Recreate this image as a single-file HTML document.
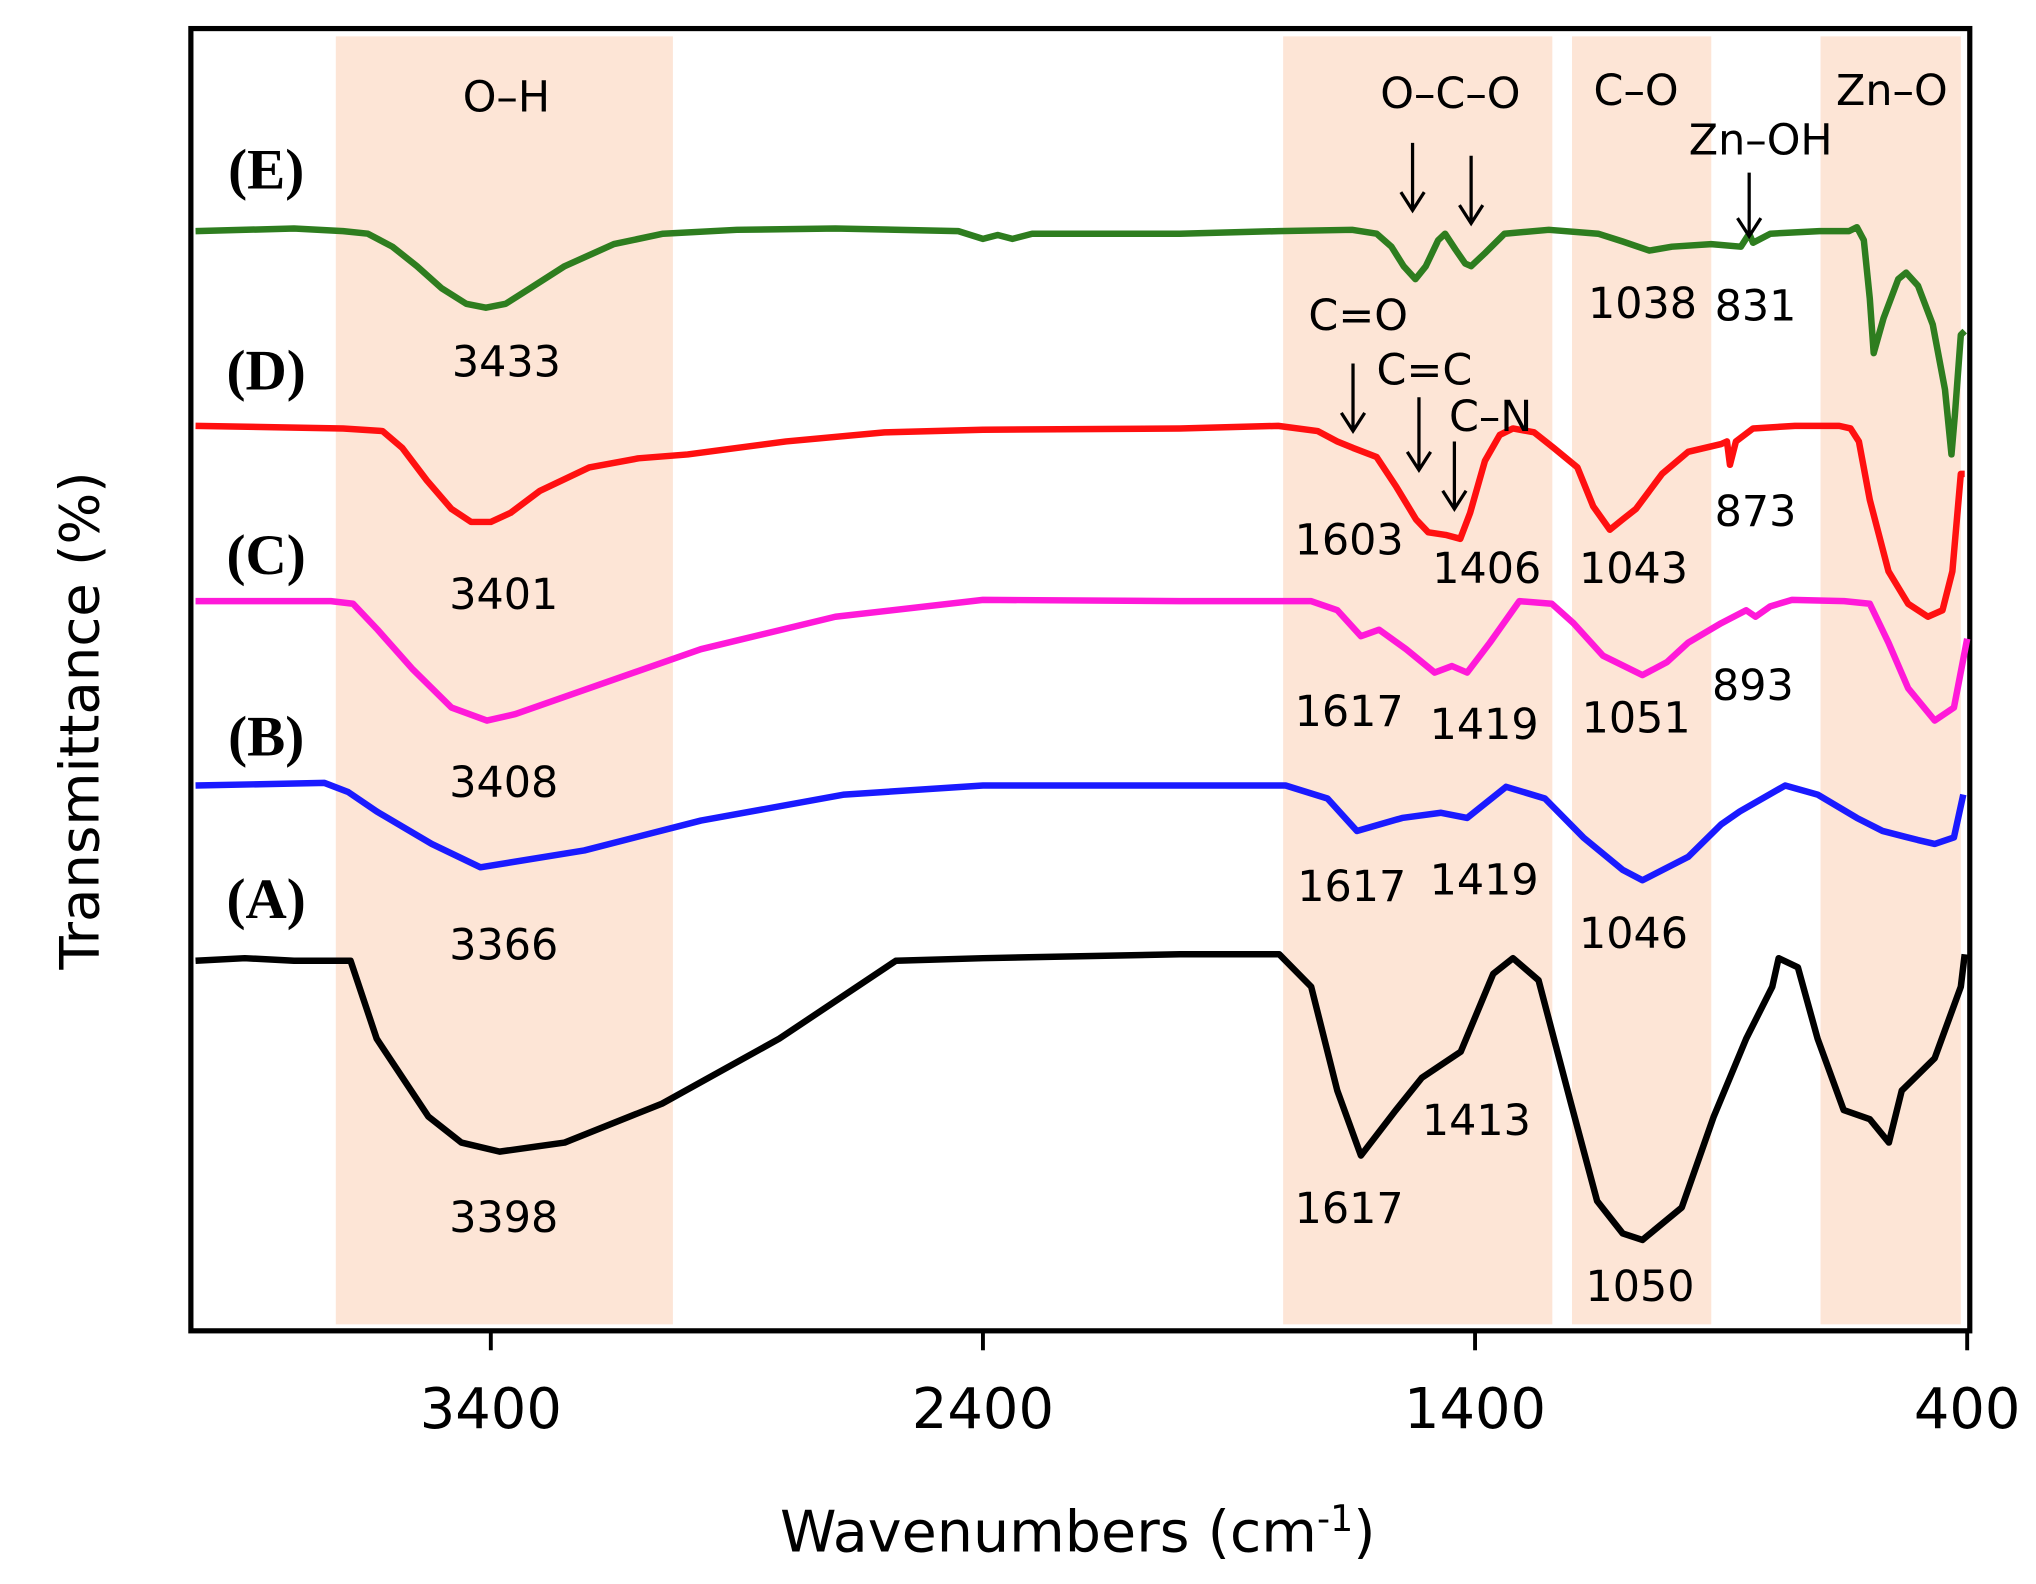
<!DOCTYPE html>
<html><head><meta charset="utf-8"><style>
html,body{margin:0;padding:0;background:#fff;}
svg{display:block;}
text{font-family:"DejaVu Sans","Liberation Sans",sans-serif;fill:#000;}
.pk{font-size:33px;}
.bd{font-size:33px;}
.cl{font-family:"Liberation Serif",serif;font-weight:bold;font-size:44px;}
.tk{font-size:43px;}
</style></head><body>
<svg id="chart" width="2036" height="1584" viewBox="0 0 1568 1220" preserveAspectRatio="none" xmlns="http://www.w3.org/2000/svg">
<g id="bands"></g>
<rect x="147" y="22" width="1370" height="1003" fill="none" stroke="#000" stroke-width="4"/>
<g id="ticks"></g>
<g id="curves"></g>
<text x="830" y="1195" font-size="44" text-anchor="middle">Wavenumbers (cm<tspan font-size="28" dy="-16">-1</tspan><tspan dy="16">)</tspan></text>
<text transform="translate(76,555) rotate(-90)" font-size="42" text-anchor="middle">Transmittance (%)</text>
<text class="cl" x="205" y="145" text-anchor="middle">(E)</text>
<text class="cl" x="205" y="300" text-anchor="middle">(D)</text>
<text class="cl" x="205" y="442" text-anchor="middle">(C)</text>
<text class="cl" x="205" y="582" text-anchor="middle">(B)</text>
<text class="cl" x="205" y="707" text-anchor="middle">(A)</text>
<g>
<text class="bd" x="390" y="86" text-anchor="middle">O–H</text>
<text class="bd" x="1117" y="83" text-anchor="middle">O–C–O</text>
<text class="bd" x="1260" y="81" text-anchor="middle">C–O</text>
<text class="bd" x="1457" y="81" text-anchor="middle">Zn–O</text>
<text class="bd" x="1356" y="119" text-anchor="middle">Zn–OH</text>
<text class="bd" x="1046" y="254" text-anchor="middle">C=O</text>
<text class="bd" x="1097" y="296" text-anchor="middle">C=C</text>
<text class="bd" x="1148" y="332" text-anchor="middle">C–N</text>
</g>
<g>
<text class="pk" x="390" y="290" text-anchor="middle">3433</text>
<text class="pk" x="1265" y="245" text-anchor="middle">1038</text>
<text class="pk" x="1352" y="247" text-anchor="middle">831</text>
<text class="pk" x="388" y="469" text-anchor="middle">3401</text>
<text class="pk" x="1039" y="427" text-anchor="middle">1603</text>
<text class="pk" x="1145" y="449" text-anchor="middle">1406</text>
<text class="pk" x="1258" y="449" text-anchor="middle">1043</text>
<text class="pk" x="1352" y="405" text-anchor="middle">873</text>
<text class="pk" x="388" y="614" text-anchor="middle">3408</text>
<text class="pk" x="1039" y="559" text-anchor="middle">1617</text>
<text class="pk" x="1143" y="569" text-anchor="middle">1419</text>
<text class="pk" x="1260" y="564" text-anchor="middle">1051</text>
<text class="pk" x="1350" y="539" text-anchor="middle">893</text>
<text class="pk" x="388" y="739" text-anchor="middle">3366</text>
<text class="pk" x="1041" y="694" text-anchor="middle">1617</text>
<text class="pk" x="1143" y="689" text-anchor="middle">1419</text>
<text class="pk" x="1258" y="730" text-anchor="middle">1046</text>
<text class="pk" x="388" y="949" text-anchor="middle">3398</text>
<text class="pk" x="1039" y="942" text-anchor="middle">1617</text>
<text class="pk" x="1137" y="874" text-anchor="middle">1413</text>
<text class="pk" x="1263" y="1002" text-anchor="middle">1050</text>
</g>
<g id="arrows"></g>
</svg>
<script>
var NS="http://www.w3.org/2000/svg";
var tickValues=[3400,2400,1400,400];
var bandRanges=[[3715,3030],[1790,1243],[1203,920],[698,413]];
var arrowAt=[[1527,110,162],[1408,120,172],[843,133,182],[1648,280,332],[1514,306,362],[1442,340,392]];
var wE=[4000,3800,3700,3650,3600,3550,3500,3450,3410,3370,3320,3250,3150,3050,2900,2700,2450,2400,2370,2340,2300,2000,1800,1650,1600,1570,1545,1521,1500,1475,1461,1440,1420,1408,1380,1340,1250,1150,1100,1046,1000,920,860,843,835,800,700,640,624,610,598,590,570,540,524,500,470,445,432,425,413,405];
var tE=[847,849,847,845,835,820,803,791,788,791,803,820,837,845,848,849,847,841,844,841,845,845,847,848,845,835,820,810,820,840,845,833,822,820,830,845,848,845,839,832,835,837,835,845,838,845,847,847,850,840,795,753,780,810,815,805,775,725,675,705,767,770];
var wD=[4000,3700,3620,3580,3530,3480,3440,3400,3360,3300,3200,3100,3000,2900,2800,2600,2400,2000,1800,1720,1680,1648,1600,1560,1520,1495,1460,1430,1410,1380,1350,1323,1280,1240,1192,1160,1126,1100,1073,1020,967,900,888,882,870,835,750,660,637,620,598,560,520,480,450,430,413,405];
var tD=[697,695,693,680,655,633,623,623,630,647,665,672,675,680,685,692,694,695,697,693,685,680,673,650,625,615,613,610,630,670,690,695,692,680,665,635,617,625,633,660,677,683,685,667,685,695,697,697,695,685,640,585,560,550,555,585,660,660];
var wC=[4000,3725,3680,3630,3560,3480,3408,3350,3200,2973,2700,2400,2000,1733,1680,1632,1595,1540,1482,1447,1416,1370,1310,1244,1200,1140,1060,1010,967,900,849,830,800,756,650,598,560,520,466,427,400];
var tC=[562,562,560,540,510,480,470,475,495,525,550,563,562,562,555,535,540,525,507,512,507,530,562,560,545,520,505,515,530,545,555,550,558,563,562,560,530,495,470,480,533];
var wB=[4000,3738,3690,3632,3520,3421,3210,2973,2682,2400,2000,1785,1700,1640,1548,1469,1416,1337,1258,1180,1100,1060,967,900,862,770,704,624,572,500,466,427,408];
var tB=[420,422,415,400,375,357,370,393,413,420,420,420,410,385,395,399,395,419,410,380,355,347,365,390,400,420,413,395,385,378,375,380,413];
var wA=[4000,3900,3800,3685,3632,3527,3460,3382,3250,3052,2814,2577,2400,2000,1798,1733,1680,1632,1561,1508,1429,1363,1323,1271,1205,1152,1100,1060,980,915,849,796,783,744,704,651,598,559,533,466,413,405];
var tA=[285,287,285,285,225,165,145,138,145,175,225,285,287,290,290,265,185,135,170,195,215,275,287,270,175,100,75,70,95,165,225,265,287,280,225,170,163,145,185,210,265,290];
var series=[[wE,tE,"#2e7d1f"],[wD,tD,"#ff1010"],[wC,tC,"#ff19d9"],[wB,tB,"#1a1aff"],[wA,tA,"#000000"]];
var seriesNames=["curve-e","curve-d","curve-c","curve-b","curve-a"];
function xs(w){return 378+(3400-w)*0.379;}
function ys(t){return 1025-t;}
var bg=document.getElementById('bands');
bandRanges.forEach(function(b){
 var r=document.createElementNS(NS,'rect');
 
 
 r.setAttribute('x',xs(b[0]));r.setAttribute('width',xs(b[1])-xs(b[0]));
 r.setAttribute('y',28);r.setAttribute('height',992);r.setAttribute('fill','#fde5d6');
 bg.appendChild(r);
});
var tg=document.getElementById('ticks');
tickValues.forEach(function(v){
 var l=document.createElementNS(NS,'line');
 
 
 l.setAttribute('x1',xs(v));l.setAttribute('x2',xs(v));l.setAttribute('y1',1025);l.setAttribute('y2',1040);
 l.setAttribute('stroke','#000');l.setAttribute('stroke-width',3);tg.appendChild(l);
 var t=document.createElementNS(NS,'text');
 
 
 t.setAttribute('x',xs(v));t.setAttribute('y',1100);t.setAttribute('text-anchor','middle');t.setAttribute('class','tk');
 t.textContent=v;tg.appendChild(t);
});
var cg=document.getElementById('curves');
series.forEach(function(s,i){
 var d='';
 for(var k=0;k<s[0].length;k++){d+=(k?'L':'M')+xs(s[0][k]).toFixed(1)+','+ys(s[1][k]).toFixed(1);}
 var p=document.createElementNS(NS,'path');
 
 
 p.setAttribute('d',d);p.setAttribute('fill','none');p.setAttribute('stroke',s[2]);
 p.setAttribute('stroke-width',5);p.setAttribute('stroke-linejoin','round');
 cg.appendChild(p);
});
var ag=document.getElementById('arrows');
arrowAt.forEach(function(a){
 var x=xs(a[0]);
 var p=document.createElementNS(NS,'path');
 
 
 p.setAttribute('d','M'+x+','+a[1]+'L'+x+','+a[2]+'M'+(x-9)+','+(a[2]-14)+'L'+x+','+a[2]+'L'+(x+9)+','+(a[2]-14));
 p.setAttribute('stroke','#000');p.setAttribute('stroke-width',2.5);p.setAttribute('fill','none');
 ag.appendChild(p);
});
</script>
</body></html>
